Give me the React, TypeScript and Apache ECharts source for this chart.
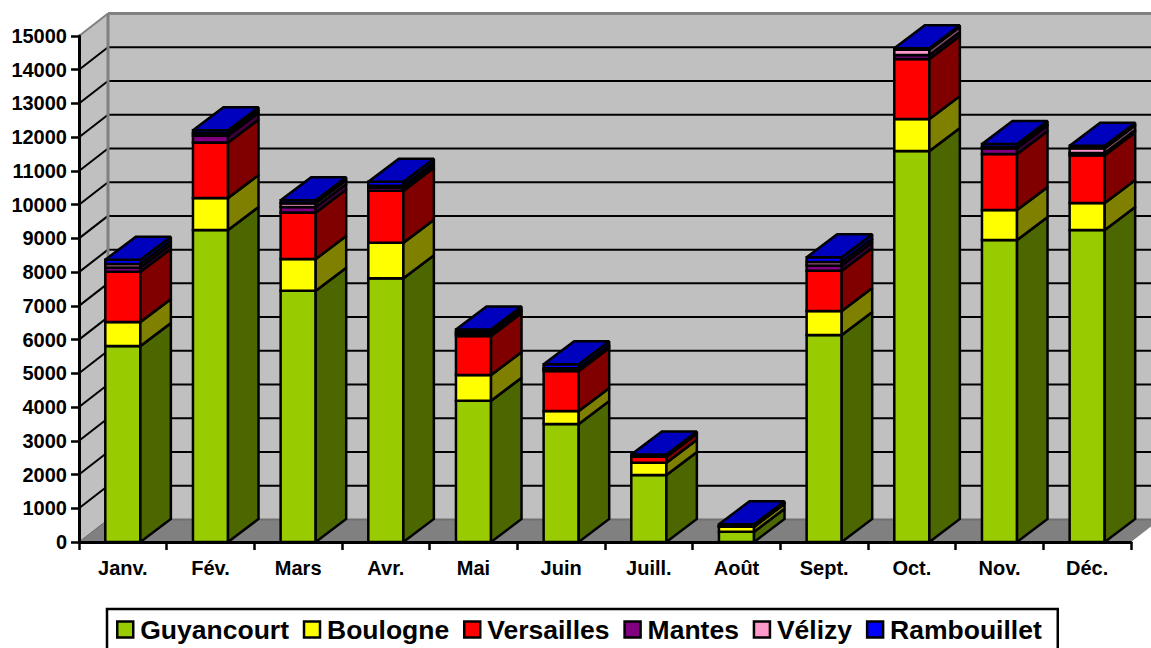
import React, { useEffect, useRef } from "react";
import * as echarts from "echarts";

const months = ["Janv.", "Fév.", "Mars", "Avr.", "Mai", "Juin", "Juill.", "Août", "Sept.", "Oct.", "Nov.", "Déc."];
const guyancourt = [5810, 9250, 7450, 7820, 4190, 3500, 1985, 305, 6140, 11590, 8950, 9250];
const boulogne = [710, 950, 940, 1050, 760, 380, 365, 150, 710, 950, 890, 800];
const versailles = [1490, 1640, 1380, 1540, 1160, 1190, 180, 10, 1190, 1780, 1660, 1415];
const mantes = [130, 200, 160, 90, 60, 40, 10, 5, 160, 120, 170, 65];
const velizy = [100, 80, 110, 60, 50, 40, 5, 5, 100, 150, 40, 140];
const rambouillet = [130, 85, 90, 120, 80, 120, 50, 50, 140, 50, 90, 80];
const gridTicks = [1000, 2000, 3000, 4000, 5000, 6000, 7000, 8000, 9000, 10000, 11000, 12000, 13000, 14000];

const seriesDefs = [
  { name: "Guyancourt", values: guyancourt, front: "#99CC00", side: "#4C6600", top: "#739900" },
  { name: "Boulogne", values: boulogne, front: "#FFFF00", side: "#808000", top: "#BFBF00" },
  { name: "Versailles", values: versailles, front: "#FF0000", side: "#800000", top: "#BF0000" },
  { name: "Mantes", values: mantes, front: "#800080", side: "#400040", top: "#600060" },
  { name: "Vélizy", values: velizy, front: "#FF99CC", side: "#804C66", top: "#BF7399" },
  { name: "Rambouillet", values: rambouillet, front: "#0000FF", side: "#000080", top: "#0000BF" },
];

const WALL_DX = 29;
const WALL_DY = -22.5;
const BAR_DX = 30.5;
const BAR_DY = -23;
const BAR_RATIO = 0.4;
const Y_MAX = 15000;
const LINE = { stroke: "#000", lineWidth: 2 };
const BAR_LINE = { stroke: "#000", lineWidth: 2.5 };
const font = "'Liberation Sans', Arial, sans-serif";

const poly = (points: number[][], style: any) => ({
  type: "polygon",
  shape: { points },
  style: { lineJoin: "miter", miterLimit: 2, ...style },
});
const seg = (x1: number, y1: number, x2: number, y2: number, style: any) => ({
  type: "line",
  shape: { x1, y1, x2, y2 },
  style,
});

function renderWalls(_: any, api: any) {
  const band = api.size([1, 0])[0];
  const [x0, y0] = api.coord([0, 0]);
  const [x1, yTop] = api.coord([months.length - 1, Y_MAX]);
  const l = x0 - band / 2;
  const r = x1 + band / 2;
  const gridLines = gridTicks.flatMap((t) => {
    const y = api.coord([0, t])[1];
    return [
      seg(l, y, l + WALL_DX, y + WALL_DY, LINE),
      seg(l + WALL_DX, y + WALL_DY, r + WALL_DX, y + WALL_DY, LINE),
    ];
  });
  const edge = { stroke: "#808080", lineWidth: 3 };
  return {
    type: "group",
    children: [
      poly([[l, y0], [l + WALL_DX, y0 + WALL_DY], [l + WALL_DX, yTop + WALL_DY], [l, yTop]], { fill: "#C0C0C0" }),
      poly([[l + WALL_DX, y0 + WALL_DY], [l + WALL_DX, yTop + WALL_DY], [r + WALL_DX, yTop + WALL_DY], [r + WALL_DX, y0 + WALL_DY]], { fill: "#C0C0C0" }),
      poly([[l, y0], [l + WALL_DX, y0 + WALL_DY], [r + WALL_DX, y0 + WALL_DY], [r, y0]], { fill: "#808080" }),
      ...gridLines,
      seg(l, y0, l + WALL_DX, y0 + WALL_DY, { stroke: "#6a6a6a", lineWidth: 1 }),
      seg(l + WALL_DX, y0 + WALL_DY, r + WALL_DX, y0 + WALL_DY, { stroke: "#707070", lineWidth: 2 }),
      seg(l + WALL_DX, yTop + WALL_DY, l + WALL_DX, y0 + WALL_DY, edge),
      seg(l + WALL_DX, yTop + WALL_DY, r + WALL_DX, yTop + WALL_DY, edge),
      seg(l, yTop, l + WALL_DX, yTop + WALL_DY, { stroke: "#808080", lineWidth: 2 }),
    ],
  };
}

const renderBar = (def: (typeof seriesDefs)[number]) => (_: any, api: any) => {
  const cat = api.value(0);
  const band = api.size([1, 0])[0];
  const w = band * BAR_RATIO;
  const [cx, yb] = api.coord([cat, api.value(1)]);
  const yt = api.coord([cat, api.value(2)])[1];
  const l = cx - w / 2;
  const r = cx + w / 2;
  return {
    type: "group",
    children: [
      poly([[l, yb], [l, yt], [r, yt], [r, yb]], { fill: def.front, ...BAR_LINE }),
      poly([[r, yb], [r, yt], [r + BAR_DX, yt + BAR_DY], [r + BAR_DX, yb + BAR_DY]], { fill: def.side, ...BAR_LINE }),
      poly([[l, yt], [l + BAR_DX, yt + BAR_DY], [r + BAR_DX, yt + BAR_DY], [r, yt]], { fill: def.top, ...BAR_LINE }),
    ],
  };
};

const barSeries = () => {
  const totals = months.map(() => 0);
  return seriesDefs.map((def) => {
    const data = def.values.map((v, i) => {
      const base = totals[i];
      totals[i] += v;
      return [i, base, totals[i]];
    });
    return {
      type: "custom",
      name: def.name,
      coordinateSystem: "cartesian2d",
      encode: { x: 0, y: [1, 2] },
      itemStyle: { color: def.front },
      z: 2,
      silent: true,
      data,
      renderItem: renderBar(def),
    };
  });
};

export default function App() {
  const ref = useRef<HTMLDivElement>(null);
  useEffect(() => {
    document.body.style.margin = "0";
    const chart = echarts.init(ref.current!, null, { renderer: "svg" });
    const axisLine = { show: true, lineStyle: { color: "#000", width: 3 } };
    const axisTick = { show: true, length: 8, lineStyle: { color: "#000", width: 2.5 } };
    const label = { color: "#000", fontFamily: font, fontWeight: "bold", fontSize: 20 };
    chart.setOption({
      animation: false,
      backgroundColor: "#fff",
      grid: { left: 79, right: 20, top: 36, bottom: 106, containLabel: false },
      xAxis: {
        type: "category",
        data: months,
        z: 6,
        axisLine,
        axisTick: { ...axisTick, alignWithLabel: false, interval: 0 },
        axisLabel: { ...label, interval: 0, margin: 16 },
        splitLine: { show: false },
      },
      yAxis: {
        type: "value",
        min: 0,
        max: Y_MAX,
        interval: 1000,
        z: 6,
        axisLine,
        axisTick,
        axisLabel: { ...label, margin: 12, formatter: (v: number) => String(v) },
        splitLine: { show: false },
      },
      legend: {
        show: true,
        left: 107,
        top: 609,
        orient: "horizontal",
        width: 1040,
        padding: [7, 16, 31, 9],
        itemGap: 13.8,
        itemWidth: 16,
        itemHeight: 16,
        icon: "rect",
        selectedMode: false,
        borderColor: "#000",
        borderWidth: 2.5,
        backgroundColor: "#fff",
        itemStyle: { borderColor: "#000", borderWidth: 2.5 },
        textStyle: { color: "#000", fontFamily: font, fontWeight: "bold", fontSize: 26.5, padding: [0, 0, 0, 2] },
        data: seriesDefs.map((d) => d.name),
      },
      series: [
        {
          type: "custom",
          name: "Murs",
          coordinateSystem: "cartesian2d",
          z: 1,
          silent: true,
          data: [[0, 0]],
          renderItem: renderWalls,
        },
        ...barSeries(),
      ],
    });
    return () => chart.dispose();
  }, []);
  return <div ref={ref} style={{ width: 1151, height: 648 }} />;
}
